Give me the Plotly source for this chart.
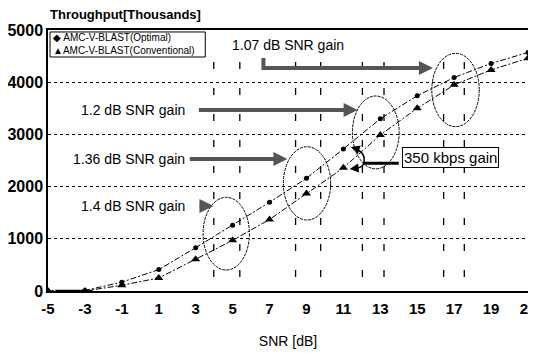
import plotly.graph_objects as go

# ---- data ----
snr = [-5, -3, -1, 1, 3, 5, 7, 9, 11, 13, 15, 17, 19, 21]
optimal = [0, 10, 170, 410, 830, 1260, 1700, 2160, 2720, 3300, 3740, 4090, 4360, 4570]
conventional = [0, 0, 110, 250, 610, 970, 1370, 1870, 2360, 2990, 3500, 3950, 4235, 4460]
series_names = ["AMC-V-BLAST(Optimal)", "AMC-V-BLAST(Conventional)"]
x_ticks = [-5, -3, -1, 1, 3, 5, 7, 9, 11, 13, 15, 17, 19, 21]
x_tick_text = [str(v) for v in x_ticks]
y_ticks = [0, 1000, 2000, 3000, 4000, 5000]

gain_labels = ["1.4 dB SNR gain", "1.36 dB SNR gain", "1.2 dB SNR gain", "1.07 dB SNR gain"]
gain_pairs = [(3.98, 5.39), (8.41, 9.77), (12.03, 13.2), (16.43, 17.55)]
# ellipse bounds (x0, x1, y0, y1)
ellipses = [(3.40, 5.91, 402, 1795), (7.75, 10.31, 1360, 2764),
            (11.49, 14.02, 2340, 3736), (15.79, 18.36, 3148, 4553)]
# arrow (x_start, x_end, y)
arrows = [(3.14, 3.96, 1628), (2.60, 7.97, 2529), (3.09, 11.77, 3467), (6.67, 15.85, 4272)]
kbps_label = "350 kbps gain"

SANS = "Liberation Sans, Arial, sans-serif"

fig = go.Figure()
line_style = dict(color="black", width=1, dash="6px,2px,2px,2px")
fig.add_trace(go.Scatter(x=snr, y=optimal, mode="lines+markers", name=series_names[0],
                         line=line_style, marker=dict(symbol="circle", size=5, color="black"),
                         showlegend=False))
fig.add_trace(go.Scatter(x=snr, y=conventional, mode="lines+markers", name=series_names[1],
                         line=line_style, marker=dict(symbol="triangle-up", size=8, color="black"),
                         showlegend=False))

shapes = []
# vertical dashed markers
for a, b in gain_pairs:
    for xv in (a, b):
        shapes.append(dict(type="line", xref="x", yref="y", x0=xv, x1=xv, y0=270, y1=4620,
                           line=dict(color="black", width=1.3, dash="7px,19px")))
# ellipses
for x0, x1, y0, y1 in ellipses:
    shapes.append(dict(type="circle", xref="x", yref="y", x0=x0, x1=x1, y0=y0, y1=y1,
                       line=dict(color="black", width=1, dash="3px,1px")))
# L-part of the 1.07 dB arrow
shapes.append(dict(type="line", xref="x", yref="y", x0=arrows[3][0], x1=arrows[3][0],
                   y0=arrows[3][2] - 40, y1=4464, line=dict(color="#555", width=4)))
# thick baseline segment at zero
shapes.append(dict(type="line", xref="x", yref="y", x0=-4.6, x1=-2.6, y0=0, y1=0,
                   line=dict(color="black", width=2.5)))
# 350 kbps connector
shapes.append(dict(type="line", xref="x", yref="y", x0=12.10, x1=14.0, y0=2446, y1=2446,
                   line=dict(color="black", width=3)))
shapes.append(dict(type="path", xref="x", yref="y",
                   path="M 11.55,2740 Q 12.25,2660 12.10,2446 Q 12.05,2360 11.55,2345",
                   line=dict(color="black", width=1.5)))
# legend box
shapes.append(dict(type="rect", xref="x", yref="y", x0=-4.89, x1=3.52, y0=4483, y1=4962,
                   line=dict(color="black", width=1), fillcolor="white", layer="above"))

annotations = []
# gain arrows
for xs, xe, yv in arrows:
    annotations.append(dict(x=xe, y=yv, ax=xs, ay=yv, xref="x", yref="y", axref="x", ayref="y",
                            text="", showarrow=True, arrowhead=2, arrowsize=0.7, arrowwidth=4,
                            arrowcolor="#555", standoff=0))
# gain texts
for lbl, yv in zip(gain_labels[:3], [1628, 2529, 3467]):
    annotations.append(dict(x=2.55, y=yv, xref="x", yref="y", text=lbl, showarrow=False,
                            xanchor="right", yanchor="middle",
                            font=dict(family=SANS, size=14, color="black")))
annotations.append(dict(x=8.0, y=4713, xref="x", yref="y", text=gain_labels[3], showarrow=False,
                        xanchor="center", yanchor="middle",
                        font=dict(family=SANS, size=14, color="black")))
# 350 kbps arrowheads
annotations.append(dict(x=11.40, y=2759, ax=11.65, ay=2730, xref="x", yref="y", axref="x", ayref="y",
                        text="", showarrow=True, arrowhead=2, arrowsize=1.2, arrowwidth=1.5,
                        arrowcolor="black", standoff=0))
annotations.append(dict(x=11.34, y=2337, ax=11.65, ay=2350, xref="x", yref="y", axref="x", ayref="y",
                        text="", showarrow=True, arrowhead=2, arrowsize=1.2, arrowwidth=1.5,
                        arrowcolor="black", standoff=0))
annotations.append(dict(x=16.82, y=2567, xref="x", yref="y", text=kbps_label, showarrow=False,
                        xanchor="center", yanchor="middle", bgcolor="white",
                        bordercolor="black", borderwidth=1, borderpad=1,
                        font=dict(family=SANS, size=15, color="black")))
# legend texts
annotations.append(dict(x=-4.85, y=4847, xref="x", yref="y", text="◆ " + series_names[0],
                        showarrow=False, xanchor="left", yanchor="middle",
                        font=dict(family=SANS, size=10, color="black")))
annotations.append(dict(x=-4.85, y=4598, xref="x", yref="y", text="▲" + series_names[1],
                        showarrow=False, xanchor="left", yanchor="middle",
                        font=dict(family=SANS, size=10, color="black")))
# chart title
annotations.append(dict(x=0.0, y=1, xref="paper", yref="paper", yshift=6,
                        text="<b>Throughput[Thousands]</b>", showarrow=False,
                        xanchor="left", yanchor="bottom",
                        font=dict(family=SANS, size=13, color="black")))

fig.update_layout(
    width=536, height=345,
    margin=dict(l=40, r=16, t=22, b=62),
    paper_bgcolor="white", plot_bgcolor="white",
    shapes=shapes, annotations=annotations,
    showlegend=False,
    xaxis=dict(range=[-5, 21], tickvals=x_ticks, ticktext=x_tick_text, showgrid=False,
               zeroline=False, automargin=False, ticklabeloverflow="allow",
               showline=True, linecolor="black", linewidth=1.5, mirror=True,
               ticks="", ticklabelstandoff=3,
               tickfont=dict(family=SANS, size=15, color="black", weight="bold"),
               title=dict(text="SNR [dB]", standoff=20,
                          font=dict(family=SANS, size=14, color="black"))),
    yaxis=dict(range=[0, 5000], tickvals=y_ticks, showgrid=True, gridcolor="black",
               griddash="dot", gridwidth=1, zeroline=False, automargin=False,
               showline=True, linecolor="black", linewidth=1.5, mirror=True,
               ticks="", ticklabelstandoff=0,
               tickfont=dict(family=SANS, size=16, color="black", weight="bold")),
)

fig.write_html("out.html")
